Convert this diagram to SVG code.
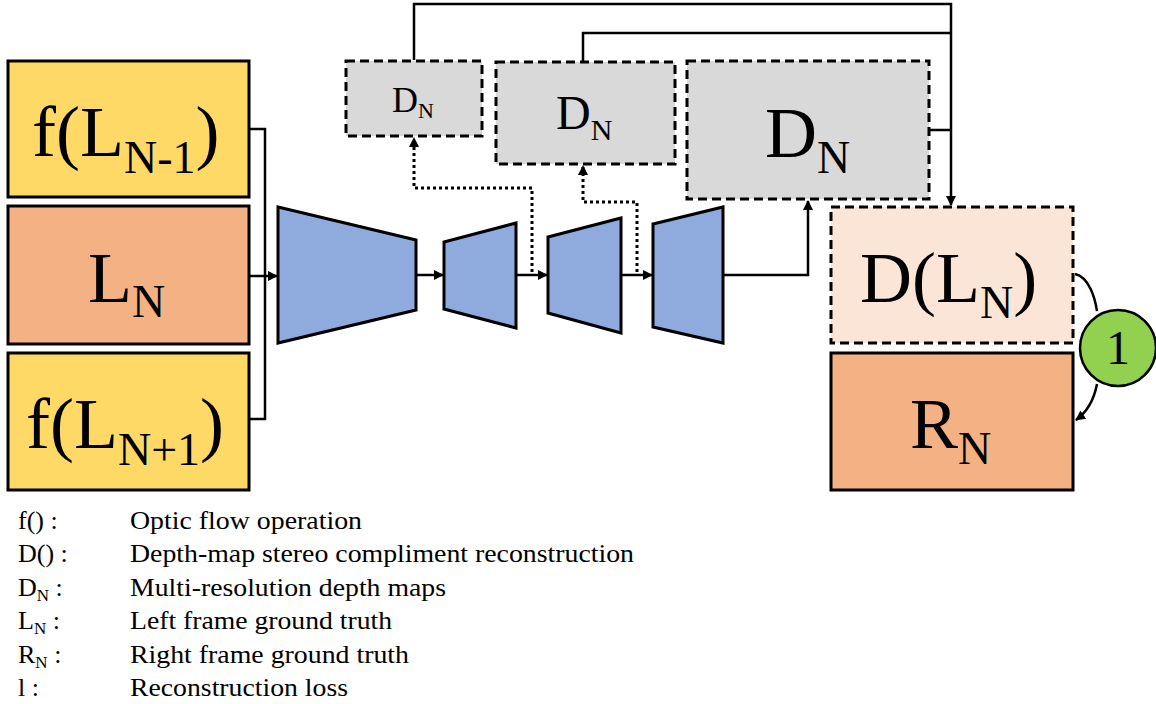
<svg xmlns="http://www.w3.org/2000/svg" width="1156" height="704" viewBox="0 0 1156 704">
<defs>
<marker id="ah" viewBox="0 0 10 10" refX="9" refY="5" markerWidth="10" markerHeight="10" markerUnits="userSpaceOnUse" orient="auto">
<path d="M0,0 L10,5 L0,10 z" fill="#000"/>
</marker>
</defs>
<style>
text{font-family:"Liberation Serif","Times New Roman",serif;fill:#000}
.box{stroke:#000;stroke-width:3}
.dash{stroke:#000;stroke-width:3;stroke-dasharray:9 5}
.trap{fill:#8FAADC;stroke:#000;stroke-width:3;stroke-linejoin:miter}
.c{fill:none;stroke:#000;stroke-width:2.5}
.dot{fill:none;stroke:#000;stroke-width:3;stroke-dasharray:3 3}
.big{font-size:72px}
.leg{font-size:26px}
</style>
<rect width="1156" height="704" fill="#fff"/>
<g id="connectors">
<path class="c" d="M249,129 H265 V419 H249"/>
<path class="c" d="M249,276 H277" marker-end="url(#ah)"/>
<path class="c" d="M416,275 H443" marker-end="url(#ah)"/>
<path class="c" d="M516,275 H547" marker-end="url(#ah)"/>
<path class="c" d="M621,275 H652" marker-end="url(#ah)"/>
<path class="dot" d="M532,272 V188 H414 V138" marker-end="url(#ah)"/>
<path class="dot" d="M637,272 V202 H583 V166" marker-end="url(#ah)"/>
<path class="c" d="M723,275 H808 V201" marker-end="url(#ah)"/>
<path class="c" d="M414,60 V4 H951 V205" marker-end="url(#ah)"/>
<path class="c" d="M583,61 V33 H951"/>
<path class="c" d="M929,130 H951"/>
<path class="c" d="M1075,274 C1089,277 1095,298 1097,311"/>
<path class="c" d="M1097,384 C1094,400 1087,412 1076,420" marker-end="url(#ah)"/>
</g>
<g id="f_prev">
<rect class="box" x="8" y="61" width="241" height="136" fill="#FFD966"/>
<text class="big" x="32" y="156">f(L<tspan font-size="46" dy="17">N-1</tspan><tspan dy="-17">)</tspan></text>
</g>
<g id="l_n">
<rect class="box" x="8" y="206" width="241" height="138" fill="#F4B183"/>
<text class="big" x="88" y="302">L<tspan font-size="46" dy="15">N</tspan></text>
</g>
<g id="f_next">
<rect class="box" x="8" y="353" width="241" height="137" fill="#FFD966"/>
<text class="big" x="26" y="448">f(L<tspan font-size="46" dy="17">N+1</tspan><tspan dy="-17">)</tspan></text>
</g>
<g id="enc1"><polygon class="trap" points="278,207 416,240 416,310 278,343"/></g>
<g id="enc2"><polygon class="trap" points="444,242 516,223 516,328 444,309"/></g>
<g id="dec1"><polygon class="trap" points="548,237 621,218 621,333 548,313"/></g>
<g id="dec2"><polygon class="trap" points="653,224 723,207 723,343 653,327"/></g>
<g id="dn_small">
<rect class="dash" x="346" y="61" width="136" height="75" fill="#D9D9D9"/>
<text x="392" y="112" font-size="36">D<tspan font-size="22" dy="6">N</tspan></text>
</g>
<g id="dn_mid">
<rect class="dash" x="496" y="62" width="179" height="102" fill="#D9D9D9"/>
<text x="556" y="129" font-size="48">D<tspan font-size="30" dy="11">N</tspan></text>
</g>
<g id="dn_large">
<rect class="dash" x="687" y="61" width="242" height="138" fill="#D9D9D9"/>
<text class="big" x="765" y="157">D<tspan font-size="46" dy="16">N</tspan></text>
</g>
<g id="d_ln">
<rect class="dash" x="831" y="207" width="242" height="136" fill="#FBE5D6"/>
<text class="big" x="860" y="302">D(L<tspan font-size="46" dy="16">N</tspan><tspan dy="-16">)</tspan></text>
</g>
<g id="r_n">
<rect class="box" x="831" y="353" width="242" height="137" fill="#F4B183"/>
<text class="big" x="910" y="448">R<tspan font-size="46" dy="16">N</tspan></text>
</g>
<g id="loss">
<circle cx="1118" cy="348" r="38" fill="#92D050" stroke="#000" stroke-width="2.5"/>
<text x="1118" y="364" font-size="48" text-anchor="middle">1</text>
</g>
<g id="legend">
<text class="leg" x="18" y="529">f() :</text>
<text class="leg" x="130" y="529" textLength="232" lengthAdjust="spacingAndGlyphs">Optic flow operation</text>
<text class="leg" x="18" y="562">D() :</text>
<text class="leg" x="130" y="562" textLength="504" lengthAdjust="spacingAndGlyphs">Depth-map stereo compliment reconstruction</text>
<text class="leg" x="18" y="596">D<tspan font-size="17" dy="5">N</tspan><tspan dy="-5"> :</tspan></text>
<text class="leg" x="130" y="596" textLength="316" lengthAdjust="spacingAndGlyphs">Multi-resolution depth maps</text>
<text class="leg" x="18" y="629">L<tspan font-size="17" dy="5">N</tspan><tspan dy="-5"> :</tspan></text>
<text class="leg" x="130" y="629" textLength="262" lengthAdjust="spacingAndGlyphs">Left frame ground truth</text>
<text class="leg" x="18" y="663">R<tspan font-size="17" dy="5">N</tspan><tspan dy="-5"> :</tspan></text>
<text class="leg" x="130" y="663" textLength="279" lengthAdjust="spacingAndGlyphs">Right frame ground truth</text>
<text class="leg" x="18" y="696">l :</text>
<text class="leg" x="130" y="696" textLength="218" lengthAdjust="spacingAndGlyphs">Reconstruction loss</text>
</g>
</svg>
